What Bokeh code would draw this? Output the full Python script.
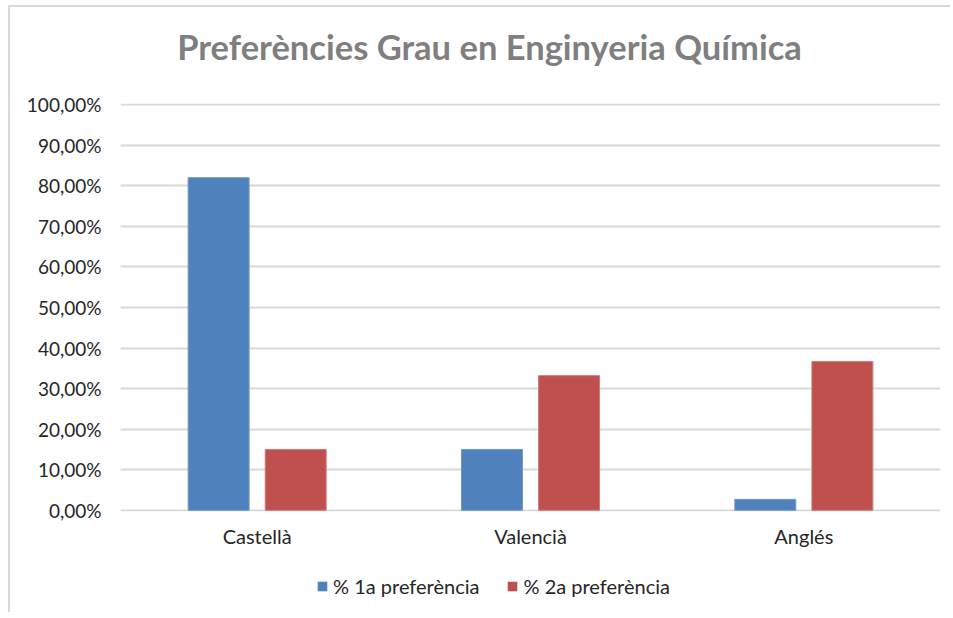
from bokeh.plotting import figure
from bokeh.layouts import column
from bokeh.models import ColumnDataSource, FactorRange, FixedTicker, Legend, LegendItem, Label
from bokeh.transform import dodge
from bokeh.embed import file_html
from bokeh.resources import INLINE

title_text = "Preferències Grau en Enginyeria Química"
categories = ["Castellà", "Valencià", "Anglés"]
pref1 = [82.0, 15.0, 2.7]
pref2 = [15.0, 33.2, 36.7]
series_names = ["% 1a preferència", "% 2a preferència"]
y_ticks = [0, 10, 20, 30, 40, 50, 60, 70, 80, 90, 100]
y_tick_labels = ["0,00%", "10,00%", "20,00%", "30,00%", "40,00%", "50,00%",
                 "60,00%", "70,00%", "80,00%", "90,00%", "100,00%"]
colors = ["#4f81bd", "#c0504d"]
edges = ["#6f97c9", "#d07a78"]

FONT = "Lato"
TXT = "#262626"
W = 940
BL, BR = 110, 10


def strip(height):
    f = figure(width=W, height=height, output_backend="svg", toolbar_location=None,
               x_range=(0, 1), y_range=(0, 1))
    f.min_border_left = BL
    f.min_border_right = BR
    f.min_border_top = 0
    f.min_border_bottom = 0
    f.outline_line_color = None
    f.axis.visible = False
    f.grid.visible = False
    return f


# title strip
top = strip(81)
top.add_layout(Label(x=0.45, y=0.52, text=title_text, text_align="center",
                     text_baseline="alphabetic", text_font=FONT,
                     text_font_size="34.5px", text_font_style="bold",
                     text_color="#7f7f7f"))

# main chart
source = ColumnDataSource(dict(cat=categories, p1=pref1, p2=pref2))
p = figure(x_range=FactorRange(*categories), y_range=(-0.3, 100.3),
           width=W, height=472, output_backend="svg", toolbar_location=None)
p.min_border_left = BL
p.min_border_right = BR
p.min_border_top = 15
p.min_border_bottom = 49
p.outline_line_color = None

r1 = p.vbar(x=dodge("cat", -0.141, range=p.x_range), top="p1", width=0.223,
            source=source, fill_color=colors[0], line_color=edges[0], line_width=1)
r2 = p.vbar(x=dodge("cat", 0.141, range=p.x_range), top="p2", width=0.223,
            source=source, fill_color=colors[1], line_color=edges[1], line_width=1)

p.yaxis.ticker = FixedTicker(ticks=y_ticks)
p.yaxis.major_label_overrides = {t: l for t, l in zip(y_ticks, y_tick_labels)}
for ax in (p.xaxis[0], p.yaxis[0]):
    ax.axis_line_color = None
    ax.major_tick_line_color = None
    ax.minor_tick_line_color = None
    ax.major_label_text_font = FONT
    ax.major_label_text_color = TXT
p.yaxis.major_label_text_font_size = "19px"
p.xaxis.major_label_text_font_size = "20px"
p.yaxis.major_label_standoff = 13
p.xaxis.major_label_standoff = 6

p.xgrid.grid_line_color = None
p.ygrid.grid_line_color = "#d9d9d9"
p.ygrid.grid_line_width = 2

# legend strip (swatches come from zero-height stand-in bars)
lg = strip(52)
d1 = lg.vbar(x=[-1], top=[0], width=0.1, fill_color=colors[0], line_color=None)
d2 = lg.vbar(x=[-1], top=[0], width=0.1, fill_color=colors[1], line_color=None)
legend = Legend(items=[LegendItem(label=series_names[0], renderers=[d1]),
                       LegendItem(label=series_names[1], renderers=[d2])],
                orientation="horizontal", location=(196, 14))
legend.border_line_color = None
legend.background_fill_alpha = 0
legend.label_text_font = FONT
legend.label_text_font_size = "20px"
legend.label_text_color = TXT
legend.glyph_width = 12
legend.glyph_height = 12
legend.spacing = 27
legend.label_standoff = 5
legend.padding = 0
legend.margin = 0
lg.add_layout(legend, "center")

layout = column(top, p, lg, spacing=0)
layout.styles = {"margin-left": "8px", "margin-top": "5px",
                 "border-top": "2px solid #d9d9d9", "border-left": "2px solid #d9d9d9"}

open("out.html", "w").write(file_html(layout, INLINE))
